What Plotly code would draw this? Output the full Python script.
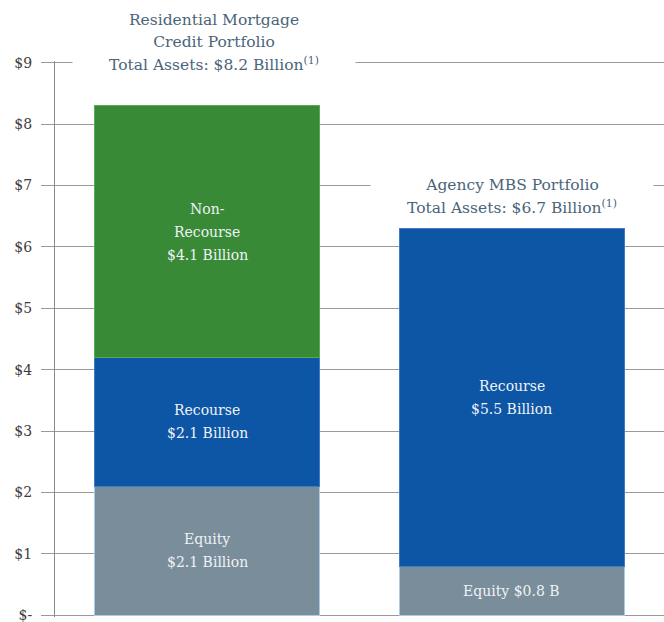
import plotly.graph_objects as go

# Portfolio categories and stacked funding components ($ billions)
portfolios = ["Residential Mortgage Credit", "Agency MBS"]
equity = [2.1, 0.8]
recourse = [2.1, 5.5]
non_recourse = [4.1, None]

equity_labels = ["Equity<br>$2.1 Billion", "Equity $0.8 B"]
recourse_labels = ["Recourse<br>$2.1 Billion", "Recourse<br>$5.5 Billion"]
non_recourse_labels = ["Non-<br>Recourse<br>$4.1 Billion", ""]

titles = [
    ["Residential Mortgage", "Credit Portfolio", "Total Assets: $8.2 Billion<sup>(1)</sup>"],
    ["Agency MBS Portfolio", "Total Assets: $6.7 Billion<sup>(1)</sup>"],
]

tick_vals = [0, 1, 2, 3, 4, 5, 6, 7, 8, 9]
tick_text = ["$-", "$1", "$2", "$3", "$4", "$5", "$6", "$7", "$8", "$9"]

SERIF = "DejaVu Serif"
GREEN = "#388a36"
BLUE = "#0d55a5"
GRAY = "#7a8d9b"
LABEL = "#eef2f6"
TITLE = "#4b6479"
LINE_H = 23
TITLE_H = 22

fig = go.Figure()
series = [
    (equity, GRAY, "#a9cbe6"),
    (recourse, BLUE, "#3f7cc4"),
    (non_recourse, GREEN, "#5aa955"),
]
for vals, col, edge in series:
    fig.add_bar(
        x=portfolios, y=vals,
        marker=dict(color=col, line=dict(color=edge, width=1)),
        hoverinfo="skip",
    )

annotations = []

def multiline(x, y, text, color, size):
    lines = text.split("<br>")
    n = len(lines)
    for i, line in enumerate(lines):
        annotations.append(dict(
            x=x, y=y, xref="x", yref="y", text=line, showarrow=False,
            yshift=((n - 1) / 2 - i) * LINE_H, yanchor="middle",
            font=dict(family=SERIF, size=size, color=color),
        ))

# segment labels centred in each stacked piece
for i, cat in enumerate(portfolios):
    base = 0.0
    for vals, labels in [(equity, equity_labels), (recourse, recourse_labels),
                         (non_recourse, non_recourse_labels)]:
        v = vals[i]
        if v and labels[i]:
            multiline(cat, base + v / 2, labels[i], LABEL, 14)
            base += v

# portfolio headings above each bar, on a white band over the gridlines
heading_pos = [(portfolios[0], 9.0, 7, -1), (portfolios[1], 6.685, 0, -2)]
for (cat, ybase, dx, dy), lines in zip(heading_pos, titles):
    n = len(lines)
    for j, line in enumerate(lines):
        annotations.append(dict(
            x=cat, y=ybase, xref="x", yref="y", text=line, showarrow=False,
            yshift=(n - 1 - j) * TITLE_H + dy, yanchor="middle", xshift=dx,
            bgcolor="white", width=280, height=20,
            font=dict(family=SERIF, size=15.5, color=TITLE),
        ))

fig.update_layout(
    barmode="stack",
    bargap=0.26,
    width=664, height=622,
    margin=dict(l=55, r=0, t=61, b=5),
    plot_bgcolor="white", paper_bgcolor="white",
    showlegend=False,
    annotations=annotations,
    xaxis=dict(range=[-0.5, 1.5], showticklabels=False, showgrid=False,
               zeroline=False, showline=False, ticks=""),
    yaxis=dict(range=[-0.03, 9.03], tickvals=tick_vals, ticktext=tick_text,
               showgrid=True, gridcolor="#9a9a9a", gridwidth=1,
               zeroline=True, zerolinecolor="#9a9a9a", zerolinewidth=1,
               showline=True, linecolor="#8c8c8c", linewidth=1,
               ticks="outside", ticklen=13, tickcolor="#9a9a9a",
               ticklabelstandoff=6, ticklabeloverflow="allow",
               tickfont=dict(family=SERIF, size=14, color="#3d3d3d")),
)

fig.write_html("out.html")
